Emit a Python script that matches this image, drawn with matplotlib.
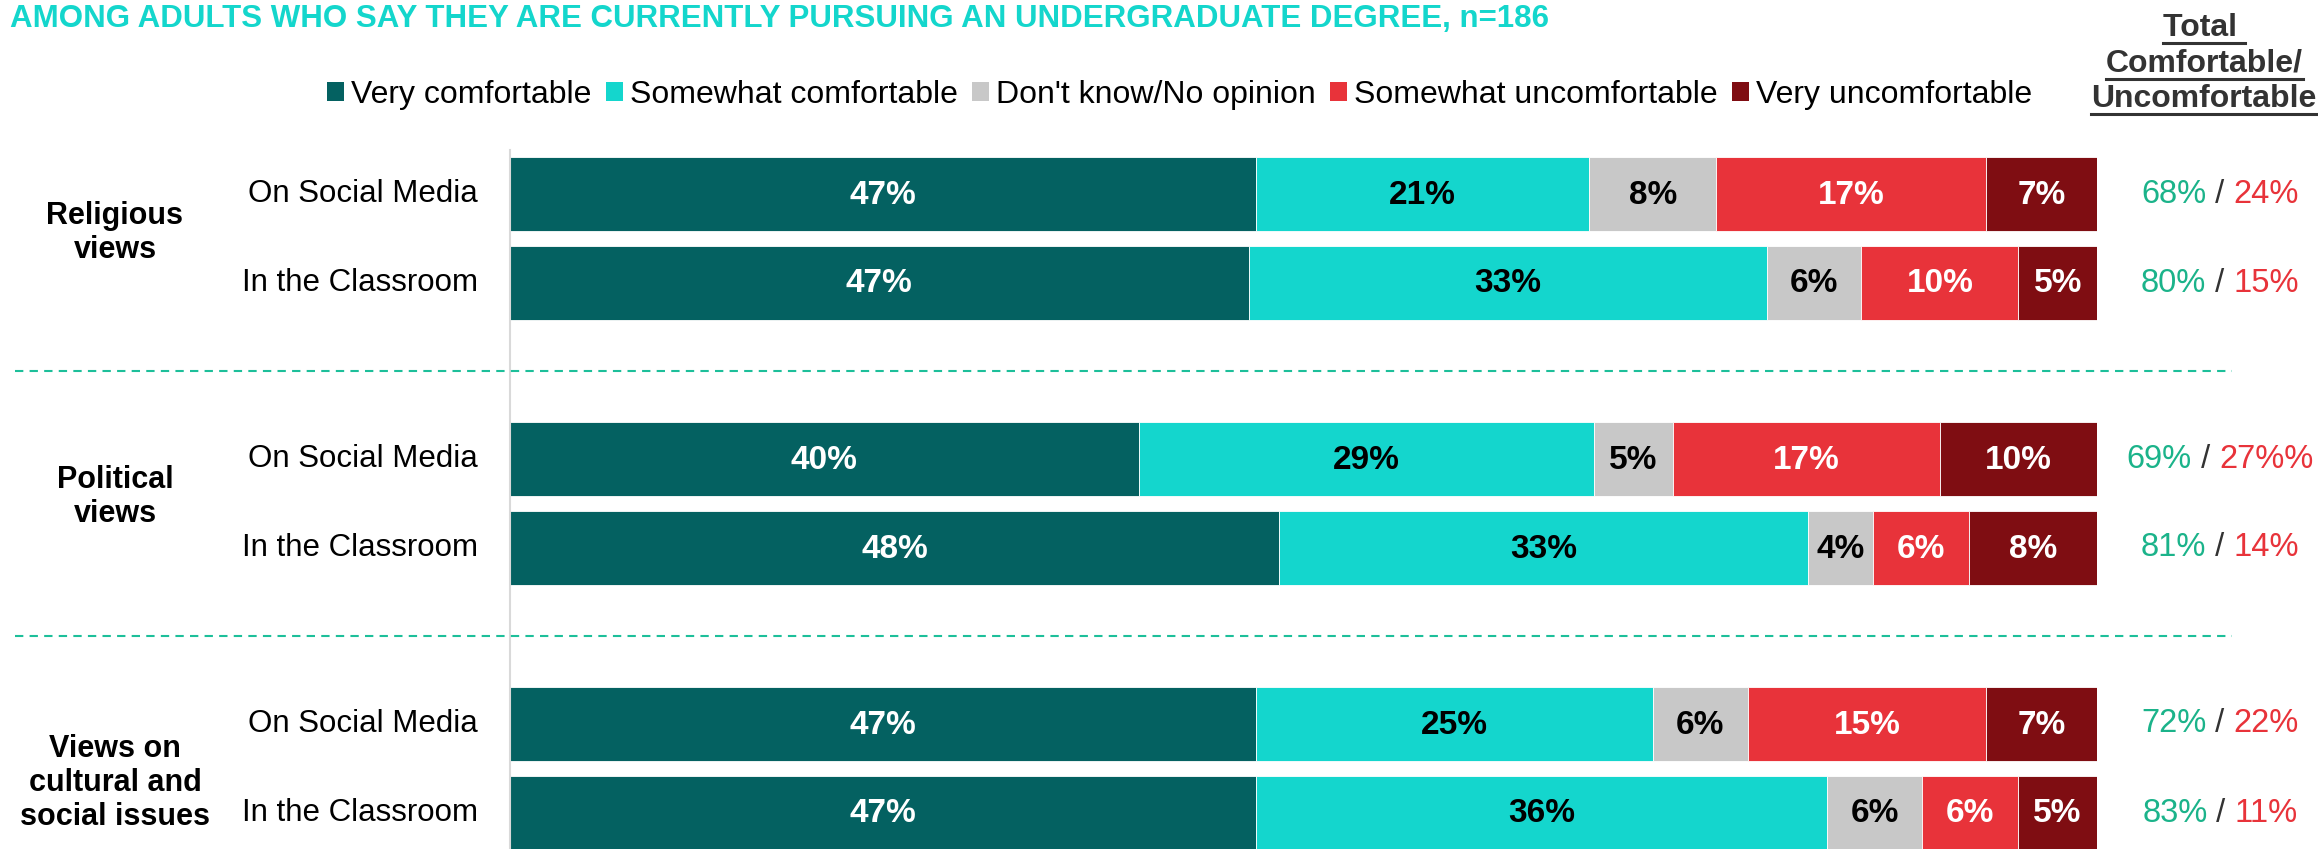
import matplotlib
matplotlib.use("Agg")
import matplotlib.pyplot as plt
from matplotlib.patches import Patch
from matplotlib.lines import Line2D
import matplotlib.transforms as mtransforms
import numpy as np

plt.rcParams['font.family'] = ['Liberation Sans', 'DejaVu Sans']

title = "AMONG ADULTS WHO SAY THEY ARE CURRENTLY PURSUING AN UNDERGRADUATE DEGREE, n=186"
groups = ["Religious\nviews", "Political\nviews", "Views on\ncultural and\nsocial issues"]
rows = ["On Social Media", "In the Classroom"]
categories = ["Very comfortable", "Somewhat comfortable", "Don't know/No opinion",
              "Somewhat uncomfortable", "Very uncomfortable"]
very_comf = [47, 47, 40, 48, 47, 47]
some_comf = [21, 33, 29, 33, 25, 36]
dont_know = [8, 6, 5, 4, 6, 6]
some_unc = [17, 10, 17, 6, 15, 6]
very_unc = [7, 5, 10, 8, 7, 5]
total_comf = ["68%", "80%", "69%", "81%", "72%", "83%"]
total_unc = ["24%", "15%", "27%%", "14%", "22%", "11%"]
header = ["Total ", "Comfortable/", "Uncomfortable"]

colors = ["#046161", "#14D6CD", "#C8C8C8", "#E8333A", "#7F0D12"]
text_colors = ["white", "black", "black", "white", "white"]
green = "#1BB38A"
red = "#E8333A"

W, H = 2318, 849
fig = plt.figure(figsize=(W / 100, H / 100), dpi=100)
ax = fig.add_axes([510 / W, 0, (2097 - 510) / W, 1])
ax.set_xlim(0, 100)
ax.set_ylim(H, 0)
ax.axis("off")

data = np.array([very_comf, some_comf, dont_know, some_unc, very_unc], dtype=float)
shares = data / data.sum(axis=0) * 100

# row centres, in pixels from the top
ys = []
for g in range(len(groups)):
    for r in range(len(rows)):
        ys.append(194 + g * 265 + r * 89)
ys = np.array(ys)

left = np.zeros(len(ys))
for k in range(len(categories)):
    ax.barh(ys, shares[k], left=left, height=74, color=colors[k], edgecolor="white", linewidth=0.6)
    for i, y in enumerate(ys):
        ax.text(left[i] + shares[k][i] / 2, y + 1, f"{int(data[k][i])}%", ha="center", va="center",
                color=text_colors[k], fontsize=24, fontweight="bold")
    left += shares[k]

# axis line
ax.plot([0, 0], [150, H], color="#D9D9D9", lw=1.5, clip_on=False)

trans = mtransforms.blended_transform_factory(fig.transFigure, ax.transData)

# row and group labels
for i, y in enumerate(ys):
    ax.text(478 / W, y, rows[i % 2], transform=trans, ha="right", va="center", fontsize=22.5)
group_y = [233, 497, 783]
for g, name in enumerate(groups):
    ax.text(115 / W, group_y[g], name, transform=trans, ha="center", va="center", fontsize=22,
            fontweight="bold", linespacing=1.18)

# dashed separators
for g in range(len(groups) - 1):
    yd = (ys[2 * g + 1] + ys[2 * g + 2]) / 2
    ax.plot([15 / W, 2232 / W], [yd, yd], transform=trans, color="#1DBF9A", lw=1.5,
            ls=(0, (4, 3)), clip_on=False)

# title
fig.text(10 / W, 1 - 19 / H, title, ha="left", va="center", color="#14D6CC",
         fontsize=22.5, fontweight="bold")

# legend
handles = [Patch(facecolor=c, edgecolor="none") for c in colors]
fig.legend(handles, categories, loc="center", bbox_to_anchor=(1180 / W, 1 - 95 / H), ncol=5,
           frameon=False, fontsize=23, handlelength=0.53, handleheight=0.53, handletextpad=0.22,
           columnspacing=0.45, borderpad=0, borderaxespad=0)

# header at right
header_txt = []
header_y = [28, 64, 99]
for j, line in enumerate(header):
    t = fig.text(2204 / W, 1 - header_y[j] / H, line, ha="center", va="center",
                 fontsize=23, fontweight="bold", color="#333333")
    header_txt.append(t)

# totals
tot_parts = []
for i, y in enumerate(ys):
    a = ax.text(0, y, total_comf[i], transform=trans, va="center", ha="left", fontsize=23.5, color=green)
    b = ax.text(0, y, " / ", transform=trans, va="center", ha="left", fontsize=23.5, color="#333333")
    c = ax.text(0, y, total_unc[i], transform=trans, va="center", ha="left", fontsize=23.5, color=red)
    tot_parts.append((a, b, c))

fig.canvas.draw()
r = fig.canvas.get_renderer()
for a, b, c in tot_parts:
    wa = a.get_window_extent(r).width
    wb = b.get_window_extent(r).width
    wc = c.get_window_extent(r).width
    x0 = 2220 - (wa + wb + wc) / 2
    a.set_x(x0 / W)
    b.set_x((x0 + wa) / W)
    c.set_x((x0 + wa + wb) / W)

for j, t in enumerate(header_txt):
    bb = t.get_window_extent(r)
    yy = H - header_y[j] - 15
    fig.add_artist(Line2D([bb.x0 / W, bb.x1 / W], [yy / H, yy / H], transform=fig.transFigure,
                          color="#333333", lw=2.2))

fig.savefig("out.png", dpi=100)
